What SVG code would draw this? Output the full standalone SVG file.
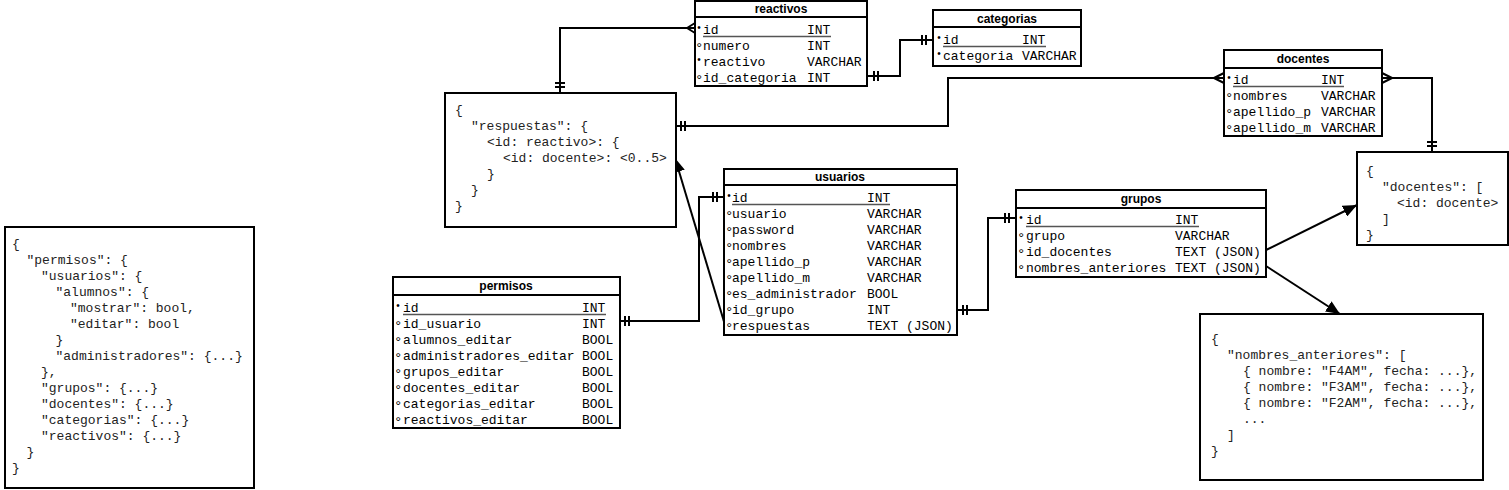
<svg xmlns="http://www.w3.org/2000/svg" width="1509" height="490" viewBox="0 0 1509 490">
<style>
.box{fill:#fff;stroke:#000;stroke-width:2}
.sep{stroke:#000;stroke-width:2}
.t{font-family:"Liberation Sans",Arial,sans-serif;font-weight:bold;font-size:12px;text-anchor:middle;fill:#000}
.r{font-family:"Liberation Mono","Courier New",monospace;font-size:13px;fill:#000}
.mk{font-family:"Liberation Mono","Courier New",monospace;font-size:10px;fill:#000}
.dg{font-family:"Liberation Mono","Courier New",monospace;font-size:14px;fill:#000}
.j{font-family:"Liberation Mono","Courier New",monospace;font-size:13px;fill:#222}
.u{stroke:#555;stroke-width:1.3}
.c{fill:none;stroke:#000;stroke-width:2}
</style>
<defs>
<marker id="arr" markerUnits="userSpaceOnUse" markerWidth="15" markerHeight="12" refX="14" refY="6" orient="auto">
<path d="M0,0 L14,6 L0,12 z" fill="#000"/>
</marker>
</defs>
<rect width="1509" height="490" fill="#fff"/>

<g id="connectors">
<path class="c" d="M560,93 V28 H695"/>
<path class="c" d="M687,28 L695,23 M687,28 L695,33 M555,83 H565 M555,87 H565"/>
<path class="c" d="M867,76 H900 V40 H933"/>
<path class="c" d="M874,71 V81 M878,71 V81 M922,35 V45 M926,35 V45"/>
<path class="c" d="M676,126 H948 V78 H1224"/>
<path class="c" d="M681,121 V131 M685,121 V131 M1214,78 L1224,73 M1214,78 L1224,83"/>
<path class="c" d="M1382,78 H1432 V152"/>
<path class="c" d="M1392,78 L1382,73 M1392,78 L1382,83 M1427,142 H1437 M1427,146 H1437"/>
<path class="c" d="M620,321 H699 V197 H724"/>
<path class="c" d="M625,316 V326 M629,316 V326 M713,192 V202 M717,192 V202"/>
<path class="c" d="M957,310 H988 V218 H1016"/>
<path class="c" d="M963,305 V315 M967,305 V315 M1005,213 V223 M1009,213 V223"/>
<line class="c" x1="725" y1="325" x2="675" y2="158" marker-end="url(#arr)"/>
<line class="c" x1="1266" y1="250" x2="1357" y2="205" marker-end="url(#arr)"/>
<line class="c" x1="1266" y1="266" x2="1340" y2="314" marker-end="url(#arr)"/>
</g>

<g id="reactivos">
<rect class="box" x="695" y="1" width="172" height="85"/>
<line class="sep" x1="695" y1="17" x2="867" y2="17"/>
<text class="t" x="781" y="13">reactivos</text>
<line class="u" x1="703" y1="36.5" x2="831" y2="36.5"/>
<text class="mk" x="696" y="31">•</text><text class="r" x="703" y="34">id</text><text class="r" x="807" y="34">INT</text>
<text class="dg" x="695" y="53">°</text><text class="r" x="703" y="50">numero</text><text class="r" x="807" y="50">INT</text>
<text class="mk" x="696" y="63">•</text><text class="r" x="703" y="66">reactivo</text><text class="r" x="807" y="66">VARCHAR</text>
<text class="dg" x="695" y="85">°</text><text class="r" x="703" y="82">id_categoria</text><text class="r" x="807" y="82">INT</text>
</g>

<g id="categorias">
<rect class="box" x="933" y="10" width="148" height="56"/>
<line class="sep" x1="933" y1="27" x2="1081" y2="27"/>
<text class="t" x="1007" y="23">categorias</text>
<line class="u" x1="943" y1="46.5" x2="1046" y2="46.5"/>
<text class="mk" x="936" y="41">•</text><text class="r" x="943" y="44">id</text><text class="r" x="1022" y="44">INT</text>
<text class="mk" x="936" y="57">•</text><text class="r" x="943" y="60">categoria</text><text class="r" x="1022" y="60">VARCHAR</text>
</g>

<g id="docentes">
<rect class="box" x="1224" y="50" width="158" height="86"/>
<line class="sep" x1="1224" y1="68" x2="1382" y2="68"/>
<text class="t" x="1303" y="63">docentes</text>
<line class="u" x1="1233" y1="86.5" x2="1344" y2="86.5"/>
<text class="mk" x="1226" y="81">•</text><text class="r" x="1233" y="84">id</text><text class="r" x="1321" y="84">INT</text>
<text class="dg" x="1225" y="103">°</text><text class="r" x="1233" y="100">nombres</text><text class="r" x="1321" y="100">VARCHAR</text>
<text class="dg" x="1225" y="119">°</text><text class="r" x="1233" y="116">apellido_p</text><text class="r" x="1321" y="116">VARCHAR</text>
<text class="dg" x="1225" y="135">°</text><text class="r" x="1233" y="132">apellido_m</text><text class="r" x="1321" y="132">VARCHAR</text>
</g>

<g id="usuarios">
<rect class="box" x="724" y="169" width="233" height="166"/>
<line class="sep" x1="724" y1="185" x2="957" y2="185"/>
<text class="t" x="840" y="181">usuarios</text>
<line class="u" x1="732" y1="204.5" x2="890" y2="204.5"/>
<text class="mk" x="726" y="199">•</text><text class="r" x="732" y="202">id</text><text class="r" x="867" y="202">INT</text>
<text class="dg" x="725" y="221">°</text><text class="r" x="732" y="218">usuario</text><text class="r" x="867" y="218">VARCHAR</text>
<text class="dg" x="725" y="237">°</text><text class="r" x="732" y="234">password</text><text class="r" x="867" y="234">VARCHAR</text>
<text class="dg" x="725" y="253">°</text><text class="r" x="732" y="250">nombres</text><text class="r" x="867" y="250">VARCHAR</text>
<text class="dg" x="725" y="269">°</text><text class="r" x="732" y="266">apellido_p</text><text class="r" x="867" y="266">VARCHAR</text>
<text class="dg" x="725" y="285">°</text><text class="r" x="732" y="282">apellido_m</text><text class="r" x="867" y="282">VARCHAR</text>
<text class="dg" x="725" y="301">°</text><text class="r" x="732" y="298">es_administrador</text><text class="r" x="867" y="298">BOOL</text>
<text class="dg" x="725" y="317">°</text><text class="r" x="732" y="314">id_grupo</text><text class="r" x="867" y="314">INT</text>
<text class="dg" x="725" y="333">°</text><text class="r" x="732" y="330">respuestas</text><text class="r" x="867" y="330">TEXT (JSON)</text>
</g>

<g id="grupos">
<rect class="box" x="1016" y="190" width="250" height="87"/>
<line class="sep" x1="1016" y1="208" x2="1266" y2="208"/>
<text class="t" x="1141" y="203">grupos</text>
<line class="u" x1="1026" y1="226.5" x2="1199" y2="226.5"/>
<text class="mk" x="1018" y="221">•</text><text class="r" x="1026" y="224">id</text><text class="r" x="1175" y="224">INT</text>
<text class="dg" x="1017" y="243">°</text><text class="r" x="1026" y="240">grupo</text><text class="r" x="1175" y="240">VARCHAR</text>
<text class="dg" x="1017" y="259">°</text><text class="r" x="1026" y="256">id_docentes</text><text class="r" x="1175" y="256">TEXT (JSON)</text>
<text class="dg" x="1017" y="275">°</text><text class="r" x="1026" y="272">nombres_anteriores</text><text class="r" x="1175" y="272">TEXT (JSON)</text>
</g>

<g id="permisos">
<rect class="box" x="393" y="277" width="227" height="151"/>
<line class="sep" x1="393" y1="295" x2="620" y2="295"/>
<text class="t" x="506" y="290">permisos</text>
<line class="u" x1="403" y1="314.5" x2="606" y2="314.5"/>
<text class="mk" x="395" y="309">•</text><text class="r" x="403" y="312">id</text><text class="r" x="582" y="312">INT</text>
<text class="dg" x="394" y="331">°</text><text class="r" x="403" y="328">id_usuario</text><text class="r" x="582" y="328">INT</text>
<text class="dg" x="394" y="347">°</text><text class="r" x="403" y="344">alumnos_editar</text><text class="r" x="582" y="344">BOOL</text>
<text class="dg" x="394" y="363">°</text><text class="r" x="403" y="360">administradores_editar</text><text class="r" x="582" y="360">BOOL</text>
<text class="dg" x="394" y="379">°</text><text class="r" x="403" y="376">grupos_editar</text><text class="r" x="582" y="376">BOOL</text>
<text class="dg" x="394" y="395">°</text><text class="r" x="403" y="392">docentes_editar</text><text class="r" x="582" y="392">BOOL</text>
<text class="dg" x="394" y="411">°</text><text class="r" x="403" y="408">categorias_editar</text><text class="r" x="582" y="408">BOOL</text>
<text class="dg" x="394" y="427">°</text><text class="r" x="403" y="424">reactivos_editar</text><text class="r" x="582" y="424">BOOL</text>
</g>

<g id="respuestas_json">
<rect class="box" x="445" y="93" width="231" height="134"/>
<text class="j" x="455" y="114">{</text>
<text class="j" x="471" y="130">"respuestas": {</text>
<text class="j" x="487" y="146">&lt;id: reactivo&gt;: {</text>
<text class="j" x="503" y="162">&lt;id: docente&gt;: &lt;0..5&gt;</text>
<text class="j" x="487" y="178">}</text>
<text class="j" x="471" y="194">}</text>
<text class="j" x="455" y="210">}</text>
</g>

<g id="docentes_json">
<rect class="box" x="1357" y="152" width="151" height="93"/>
<text class="j" x="1366" y="175">{</text>
<text class="j" x="1382" y="191">"docentes": [</text>
<text class="j" x="1397" y="207">&lt;id: docente&gt;</text>
<text class="j" x="1382" y="223">]</text>
<text class="j" x="1366" y="239">}</text>
</g>

<g id="nombres_anteriores_json">
<rect class="box" x="1200" y="314" width="283" height="166"/>
<text class="j" x="1211" y="343">{</text>
<text class="j" x="1227" y="359">"nombres_anteriores": [</text>
<text class="j" x="1243" y="375">{ nombre: "F4AM", fecha: ...},</text>
<text class="j" x="1243" y="391">{ nombre: "F3AM", fecha: ...},</text>
<text class="j" x="1243" y="407">{ nombre: "F2AM", fecha: ...},</text>
<text class="j" x="1243" y="423">...</text>
<text class="j" x="1227" y="439">]</text>
<text class="j" x="1211" y="455">}</text>
</g>

<g id="permisos_json">
<rect class="box" x="5" y="227" width="249" height="261"/>
<text class="j" x="12" y="248">{</text>
<text class="j" x="26.5" y="264">"permisos": {</text>
<text class="j" x="41" y="280">"usuarios": {</text>
<text class="j" x="55.5" y="296">"alumnos": {</text>
<text class="j" x="70" y="312">"mostrar": bool,</text>
<text class="j" x="70" y="328">"editar": bool</text>
<text class="j" x="55.5" y="344">}</text>
<text class="j" x="55.5" y="360">"administradores": {...}</text>
<text class="j" x="41" y="376">},</text>
<text class="j" x="41" y="392">"grupos": {...}</text>
<text class="j" x="41" y="408">"docentes": {...}</text>
<text class="j" x="41" y="424">"categorias": {...}</text>
<text class="j" x="41" y="440">"reactivos": {...}</text>
<text class="j" x="26.5" y="456">}</text>
<text class="j" x="12" y="472">}</text>
</g>
</svg>
